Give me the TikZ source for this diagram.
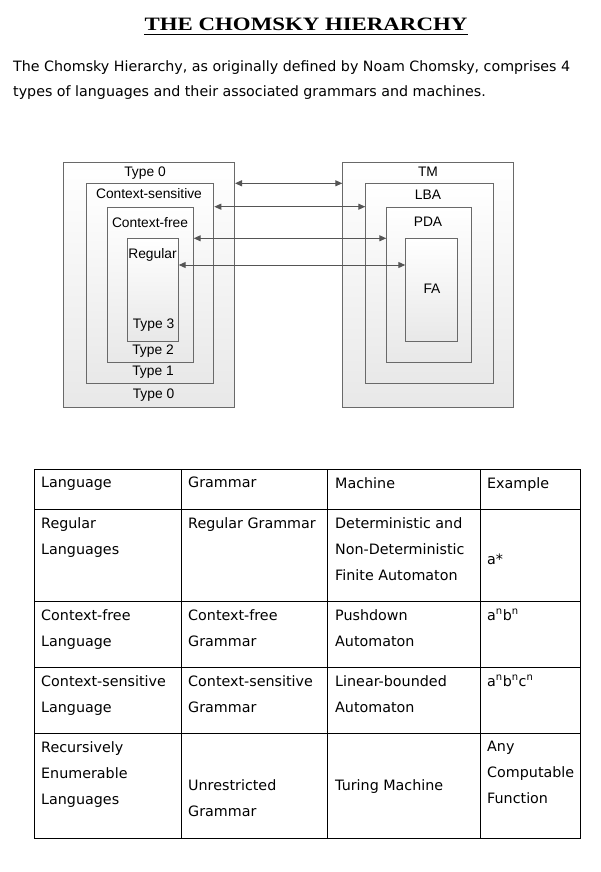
\documentclass[tikz,border=0pt]{standalone}
\usepackage{fontspec}
\setmainfont{DejaVu Sans}
\newfontfamily\diagfont{Liberation Sans}
\newfontfamily\headfont{Liberation Serif}
\usetikzlibrary{arrows.meta}
\definecolor{boxline}{RGB}{105,105,105}
\definecolor{arrowgray}{RGB}{85,85,85}

\begin{document}
\begin{tikzpicture}[
    x=1pt, y=-1pt,
    lang/.style={rectangle, draw=boxline, line width=1pt, top color=white,
                bottom color=black!9, anchor=north west, inner sep=0pt},
    boxlabel/.style={font=\diagfont\fontsize{13.8}{15}\selectfont, inner sep=0pt},
    link/.style={{Triangle[length=7pt,width=6pt]}-{Triangle[length=7pt,width=6pt]},
                draw=arrowgray, line width=1pt},
    celltext/.style={anchor=north west, align=left, inner sep=0pt,
                font=\fontsize{14.3}{26}\selectfont},
    rule/.style={line width=1pt, draw=black}
]
\fill[white] (0,0) rectangle (600,872);
\useasboundingbox (0,0) rectangle (600,872);

% Title and intro
\node[anchor=base, inner sep=0pt] (title) at (306,31)
    {\scalebox{1.27}[1.05]{\headfont\fontsize{18}{18}\selectfont\bfseries THE CHOMSKY HIERARCHY}};
\draw[line width=1pt] ([yshift=-4pt]title.base west) -- ([yshift=-4pt]title.base east);
\node[celltext, font=\fontsize{14.25}{25}\selectfont] (intro) at (13,60)
    {The Chomsky Hierarchy, as originally defined by Noam Chomsky, comprises 4\\
     types of languages and their associated grammars and machines.};

% Languages
\node[lang, minimum width=171, minimum height=245] (t0) at (63,162) {};
\node[lang, minimum width=127.6, minimum height=200] (cs) at (85.7,183.3) {};
\node[lang, minimum width=85.4, minimum height=155.6] (cf) at (107.3,206.7) {};
\node[lang, minimum width=51, minimum height=102.4] (reg) at (126.7,238.3) {};

\node[boxlabel] (t0top) at (145,173) {Type 0};
\node[boxlabel] (cstop) at (149,194) {Context-sensitive};
\node[boxlabel] (cftop) at (150,222.5) {Context-free};
\node[boxlabel] (regtop) at (152.5,255) {Regular};
\node[boxlabel] (t3) at (153.5,325) {Type 3};
\node[boxlabel] (t2) at (153,351) {Type 2};
\node[boxlabel] (t1) at (153,372) {Type 1};
\node[boxlabel] (t0bot) at (153.5,395) {Type 0};

% Machines
\node[lang, minimum width=171, minimum height=245] (tm) at (342.3,162.3) {};
\node[lang, minimum width=128, minimum height=200] (lba) at (365.3,183.3) {};
\node[lang, minimum width=84.7, minimum height=155.6] (pda) at (386.3,206.7) {};
\node[lang, minimum width=51.4, minimum height=102.4] (fa) at (405.3,238.3) {};

\node[boxlabel] (tmlbl) at (428,172) {TM};
\node[boxlabel] (lbalbl) at (428,195) {LBA};
\node[boxlabel] (pdalbl) at (428,222) {PDA};
\node[boxlabel] (falbl) at (432,289) {FA};

% Arrows
\draw[link] (t0.east |- cs.north) -- (tm.west |- cs.north);
\draw[link] (cs.east |- cf.north) -- (lba.west |- cf.north);
\draw[link] (cf.east |- reg.north) -- (pda.west |- reg.north);
\draw[link] ([yshift=-26.7pt]reg.north east) -- ([yshift=-26.7pt]fa.north west);

% Table
\draw[rule] (34,469) rectangle (580,838);
\foreach \cx in {181,327,480}
    \draw[rule] (\cx,469) -- (\cx,838);
\foreach \ry in {509,601,667,733}
    \draw[rule] (34,\ry) -- (580,\ry);

\node[celltext] (h1) at (41,477) {Language};
\node[celltext] (h2) at (188,477) {Grammar};
\node[celltext] (h3) at (335,477) {Machine};
\node[celltext] (h4) at (487,477) {Example};

\node[celltext] (r1a) at (41,517) {Regular\\Languages};
\node[celltext] (r1b) at (188,517) {Regular Grammar};
\node[celltext] (r1c) at (335,517) {Deterministic and\\Non-Deterministic\\Finite Automaton};
\node[celltext] (r1d) at (487,554) {a*};

\node[celltext] (r2a) at (41,609) {Context-free\\Language};
\node[celltext] (r2b) at (188,609) {Context-free\\Grammar};
\node[celltext] (r2c) at (335,609) {Pushdown\\Automaton};
\node[celltext] (r2d) at (487,609) {a\textsuperscript{n}b\textsuperscript{n}};

\node[celltext] (r3a) at (41,675) {Context-sensitive\\Language};
\node[celltext] (r3b) at (188,675) {Context-sensitive\\Grammar};
\node[celltext] (r3c) at (335,675) {Linear-bounded\\Automaton};
\node[celltext] (r3d) at (487,675) {a\textsuperscript{n}b\textsuperscript{n}c\textsuperscript{n}};

\node[celltext] (r4a) at (41,741) {Recursively\\Enumerable\\Languages};
\node[celltext] (r4b) at (188,779) {Unrestricted\\Grammar};
\node[celltext] (r4c) at (335,779) {Turing Machine};
\node[celltext] (r4d) at (487,741) {Any\\Computable\\Function};

\end{tikzpicture}
\end{document}
